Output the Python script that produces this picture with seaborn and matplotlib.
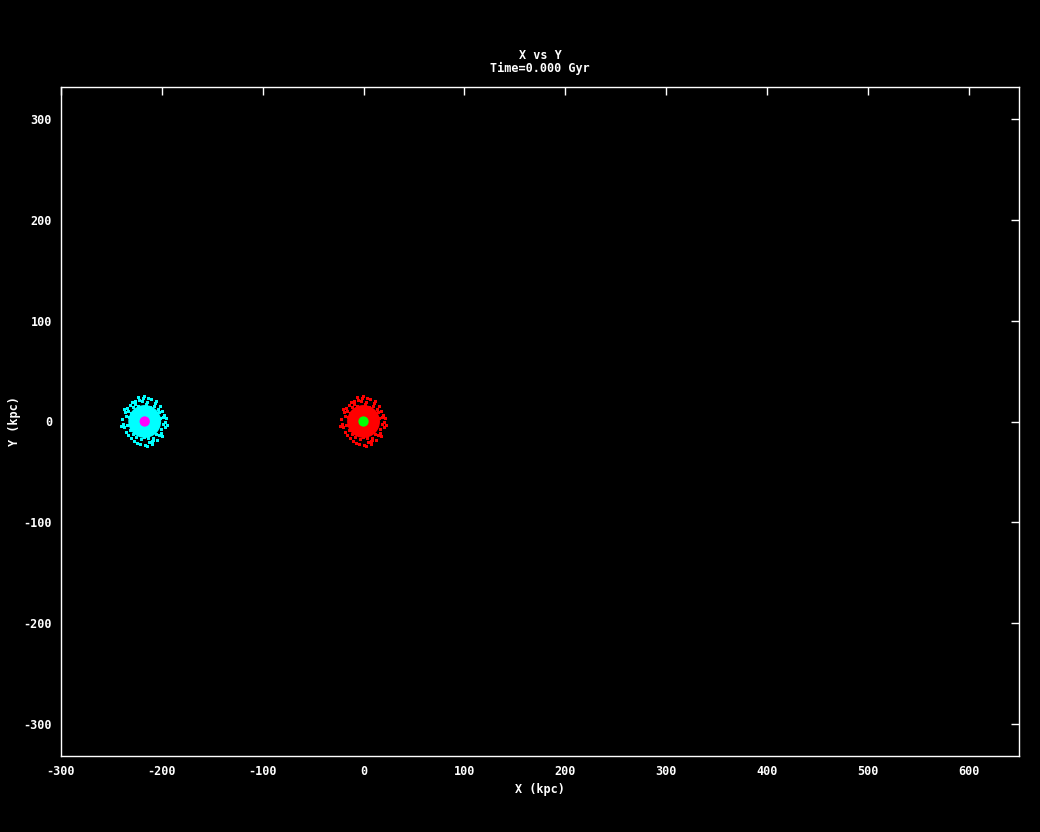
import pandas as pd
import matplotlib
matplotlib.use("Agg")
import matplotlib.pyplot as plt
import seaborn as sns

# galaxy centres (kpc)
galaxy_names = ["companion", "host"]
centre_x = [-217, 0]
centre_y = [0, 0]

# disc / halo colours and core marker colours
disc_colors = ["#00ffff", "#ff0000"]
core_colors = ["#ff00ff", "#00ff00"]

# stray particles around each disc, offsets from the centre (kpc)
halo_dx = [-22, -20, -19, -18, -17, -16, -15, -14, -13, -12, -10, -9, -7, -5, -3,
           -1, 1, 3, 5, 7, 9, 11, 13, 14, 15, 16, 17, 18, 19, 20,
           21, 22, -21, -18, -16, -14, -11, -8, -6, -4, -2, 0, 2, 4, 6,
           8, 10, 12, 15, 17, 19, 21, -20, 18, -6, 4, 0, -11, 12, 8,
           -23, 23, -17, 16, -9, 9, -13, 13, 3, -3]
halo_dy = [2, -6, 9, -11, 13, -14, 4, 16, -17, 19, -20, 17, -22, 21, -18,
           23, -24, 19, -21, 22, -17, 18, -19, 12, -14, 15, -8, 10, -3, 6,
           -1, 3, -3, 5, 10, -9, 14, -16, 15, -23, 20, -16, 17, -17, 14,
           -20, 15, -13, 9, -12, 4, -6, 12, -15, 24, 23, 25, -13, 20, -23,
           -5, -4, -4, 3, 20, -19, 8, 1, -25, 13]

rows = []
for name, cx, cy in zip(galaxy_names, centre_x, centre_y):
    for dx, dy in zip(halo_dx, halo_dy):
        rows.append({"galaxy": name, "x": cx + dx, "y": cy + dy})
halo = pd.DataFrame(rows)
centres = pd.DataFrame({"galaxy": galaxy_names, "x": centre_x, "y": centre_y})

sns.set_style("dark")
plt.rcParams.update({
    "font.family": ["DejaVu Sans Mono"],
    "font.weight": "bold",
    "axes.unicode_minus": False,
    "figure.facecolor": "black",
    "axes.facecolor": "black",
    "text.color": "white",
})

fig = plt.figure(figsize=(10.4, 8.32), dpi=100)
ax = fig.add_axes([61 / 1040, 76 / 832, 958 / 1040, 669 / 832])

pal_disc = dict(zip(galaxy_names, disc_colors))
pal_core = dict(zip(galaxy_names, core_colors))

# solid disc body
sns.scatterplot(data=centres, x="x", y="y", hue="galaxy", palette=pal_disc,
                s=560, marker="o", linewidth=0, legend=False, ax=ax)
# ragged outskirts
sns.scatterplot(data=halo, x="x", y="y", hue="galaxy", palette=pal_disc,
                s=5, marker="s", linewidth=0, legend=False, ax=ax)
# central bulge particles
sns.scatterplot(data=centres, x="x", y="y", hue="galaxy", palette=pal_core,
                s=55, marker="o", linewidth=0, legend=False, ax=ax)

ax.set_xlim(-300, 650)
ax.set_ylim(-332, 332)
ax.set_xticks(range(-300, 601, 100))
ax.set_yticks(range(-300, 301, 100))
ax.grid(False)
for sp in ax.spines.values():
    sp.set_color("white")
    sp.set_linewidth(1)
ax.tick_params(direction="in", length=5.8, width=1, color="white",
               labelcolor="white", labelsize=8.5, pad=6.5,
               top=True, right=True)
for t in ax.get_xticklabels() + ax.get_yticklabels():
    t.set_fontweight("bold")

ax.set_xlabel("X (kpc)", fontsize=8.5, fontweight="bold", color="white", labelpad=3.8)
ax.set_ylabel("Y (kpc)", fontsize=8.5, fontweight="bold", color="white", labelpad=1.5)
ax.set_title("X vs Y\nTime=0.000 Gyr", fontsize=8.5, fontweight="bold",
             color="white", pad=11, linespacing=1.0)

fig.savefig("out.png", dpi=100, facecolor="black")
